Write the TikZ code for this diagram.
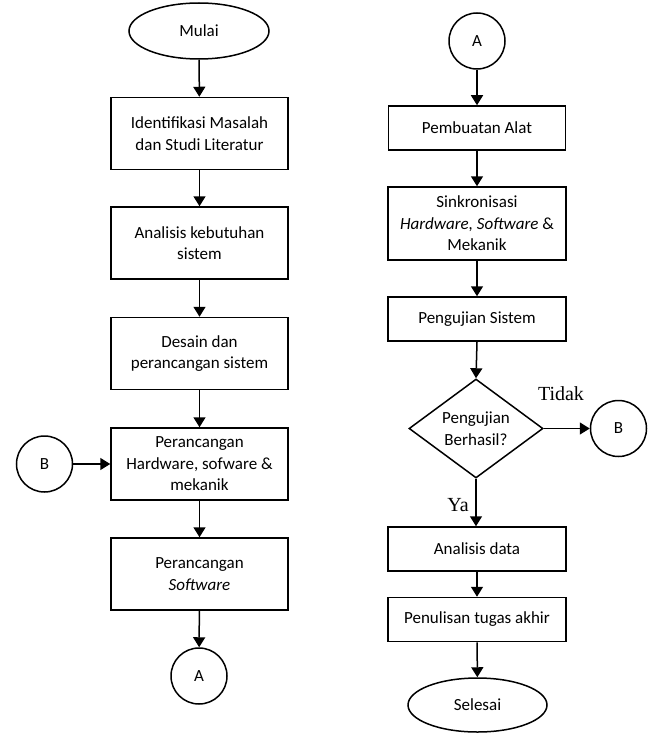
\documentclass[tikz,border=0pt]{standalone}
\usepackage{fontspec}
\setmainfont{Carlito}
\newfontfamily\labelfont{Liberation Serif}
\usetikzlibrary{shapes.geometric,arrows.meta}
\begin{document}
\begin{tikzpicture}[x=1pt,y=-1pt,
  every node/.style={font=\fontsize{17}{21.5}\selectfont, text=black, align=center},
  procbox/.style={draw, line width=1.5pt, minimum width=177pt, inner sep=0pt},
  tallbox/.style={procbox, minimum height=72pt},
  shortbox/.style={procbox, minimum height=44pt},
  terminal/.style={draw, ellipse, line width=1.5pt, minimum width=140pt, minimum height=56pt, inner sep=0pt},
  connector/.style={draw, circle, line width=1.5pt, minimum size=56pt, inner sep=0pt},
  decision/.style={draw, diamond, aspect=1.35, line width=1.5pt, minimum width=134pt, minimum height=99pt, inner sep=0pt},
  flow/.style={line width=1.5pt, -{Triangle[length=10pt,width=12pt]}},
  yesno/.style={font=\labelfont\fontsize{20}{22}\selectfont, text=black}
]
\useasboundingbox (0,0) rectangle (650,733);
% left column
\node[terminal] (mulai) at (199,31) {Mulai};
\node[tallbox] (b1) at (199.5,133.5) {Identifikasi Masalah\\dan Studi Literatur};
\node[tallbox] (b2) at (199.5,243) {Analisis kebutuhan\\sistem};
\node[tallbox] (b3) at (199.5,353.5) {Desain dan\\perancangan sistem};
\node[tallbox] (b4) at (199.5,464) {Perancangan\\Hardware, sofware \&\\mekanik};
\node[tallbox] (b5) at (199.5,574) {Perancangan\\\textit{Software}};
\node[connector] (ca1) at (199,676) {A};
\node[connector] (cb1) at (44.5,464) {B};
% right column
\node[connector] (ca2) at (477,41) {A};
\node[shortbox] (r1) at (477,128) {Pembuatan Alat};
\node[tallbox, minimum width=178pt, minimum height=73pt] (r2) at (477,223.5) {Sinkronisasi\\\textit{Hardware, Software} \&\\Mekanik};
\node[shortbox, minimum width=178pt] (r3) at (477,319) {Pengujian Sistem};
\node[decision] (dec) at (476,428.5) {Pengujian\\Berhasil?};
\node[connector] (cb2) at (618.5,428.5) {B};
\node[shortbox, minimum width=178pt] (r4) at (477,549) {Analisis data};
\node[shortbox, minimum width=178pt] (r5) at (477,619.5) {Penulisan tugas akhir};
\node[terminal, minimum width=139pt, minimum height=54pt] (selesai) at (477.5,705) {Selesai};
% labels
\node[yesno] (tidak) at (561,394) {Tidak};
\node[yesno] (ya) at (458,505) {Ya};
% connectors
\draw[flow] (mulai) -- (b1);
\draw[flow] (b1) -- (b2);
\draw[flow] (b2) -- (b3);
\draw[flow] (b3) -- (b4);
\draw[flow] (b4) -- (b5);
\draw[flow] (b5) -- (ca1);
\draw[flow] (cb1) -- (b4);
\draw[flow] (ca2) -- (r1);
\draw[flow] (r1) -- (r2);
\draw[flow] (r2) -- (r3);
\draw[flow] (r3.south) -- (dec.north);
\draw[flow] (dec.east) -- (cb2);
\draw[flow] (dec.south) -- (dec.south |- r4.north);
\draw[flow] (r4) -- (r5);
\draw[flow] (r5) -- (selesai);
\end{tikzpicture}
\end{document}
